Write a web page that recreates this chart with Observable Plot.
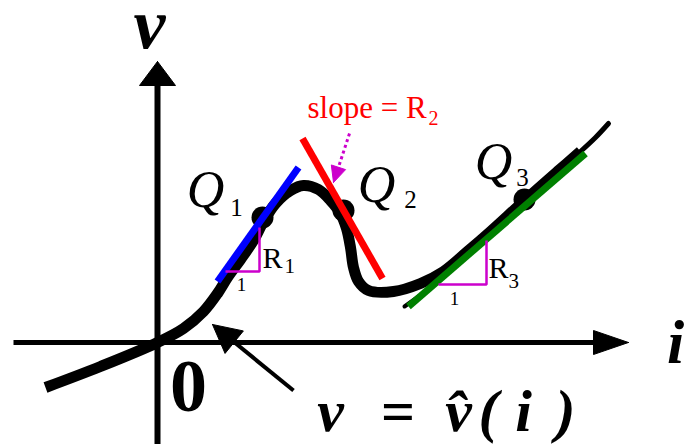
<!DOCTYPE html>
<html>
<head>
<meta charset="utf-8">
<script src="https://cdn.jsdelivr.net/npm/d3@7"></script>
<script src="https://cdn.jsdelivr.net/npm/@observablehq/plot@0.6"></script>
<style>
  html, body { margin: 0; padding: 0; background: #fff; }
  #chart svg { display: block; }
</style>
</head>
<body>
<div id="chart"></div>
<script>
// Characteristic v = v̂(i) of a current-controlled nonlinear resistor,
// with three operating points Q1..Q3 and the tangent (incremental) slopes R1..R3.

// i / v frame (1 unit = 10 px in both directions)
const iDomain = [-15.7, 53.3];
const vDomain = [-10.2, 34.2];

// characteristic curve v̂(i)
const curveI = [-11.2, -5.7, 0, 2.6, 4.6, 6.0, 7.0, 8.3, 9.6, 10.6, 11.8, 13.3, 14.6, 16.1, 17.3, 18.3, 18.9, 19.3, 19.6, 20.1, 21.1, 23.6, 26.3, 28.6, 31.0, 33.3, 36.6, 40.0, 42.3];
const curveV = [-4.5, -2.4, 0, 1.4, 3.1, 4.9, 6.5, 8.3, 10.2, 12.1, 13.9, 15.2, 15.7, 15.3, 14.2, 12.9, 11.4, 9.5, 7.5, 6.1, 5.2, 5.1, 5.9, 7.1, 9.1, 11.1, 14.1, 17.1, 19.1];
const tailI = [42.3, 43.8, 45.1];
const tailV = [19.1, 20.5, 21.9];
const stubI = [24.7, 26.1];
const stubV = [3.6, 4.6];

// operating points
const qNames = ["1", "2", "3"];
const qI = [10.5, 18.6, 36.7];
const qV = [12.5, 13.2, 14.3];

// tangent segments at Q1, Q2, Q3
const tangentR1 = [[6.0, 6.1], [14.1, 17.5]];
const tangentR2 = [[14.5, 20.4], [22.5, 6.4]];
const tangentR3 = [[25.1, 3.6], [42.8, 18.9]];

// slope triangles (run 1, rise R)
const slopeR1 = [[6.8, 7.1], [10.2, 7.1], [10.2, 11.5]];
const slopeR3 = [[28.1, 5.8], [32.9, 5.8], [32.9, 10.2]];

// axes: i axis along v = 0, v axis along i = 0
const iAxisFrom = -14.4, iAxisTip = 47.1;
const vAxisFrom = -10.2, vAxisTip = 28.1;

// pointer arrows: [tail, tip]
const curvePointer = [[13.6, -4.8], [5.5, 1.8]];
const slopePointer = [[19.2, 20.9], [17.6, 16.0]];

// text
const axisNameV = [{t: "v", i: -0.8, v: 29.5}];
const axisNameI = [{t: "i", i: 51.8, v: -2.0}];
const originLabel = [{t: "0", i: 3.1, v: -6.8}];
const qLetters = [{t: "Q", i: 4.8, v: 13.6}, {t: "Q", i: 21.9, v: 14.1}, {t: "Q", i: 33.6, v: 16.4}];
const qSubs = qNames.map((t, k) => ({t, i: [7.9, 25.3, 36.5][k], v: [12.7, 13.5, 15.7][k]}));
const rLetters = [{t: "R", i: 10.5, v: 7.5}, {t: "R", i: 33.1, v: 6.5}];
const rSubs = [{t: "1", i: 12.7, v: 7.0}, {t: "3", i: 35.1, v: 5.5}];
const runLabels = [{t: "1", i: 8.4, v: 5.2}, {t: "1", i: 29.7, v: 3.8}];
const slopeText = [{t: "slope = R", i: 15.0, v: 22.5}];
const slopeSub = [{t: "2", i: 27.1, v: 21.8}];
const formula = [
  {t: "v", i: 17.3}, {t: "=", i: 24.0}, {t: "v\u0302", i: 30.1},
  {t: "(", i: 33.1}, {t: "i", i: 36.6}, {t: ")", i: 40.8}
];
const formulaBaseline = -8.8;

// helpers
const pts = (is, vs) => is.map((i, k) => ({i, v: vs[k]}));
const pairs = (arr) => arr.map(([i, v]) => ({i, v}));
function headPoly([x0, y0], [x1, y1], len, half) {
  const dx = x1 - x0, dy = y1 - y0, L = Math.hypot(dx, dy);
  const ux = dx / L, uy = dy / L;
  const bx = x1 - ux * len, by = y1 - uy * len;
  return [[x1, y1], [bx - uy * half, by + ux * half], [bx + uy * half, by - ux * half], [x1, y1]];
}
function shaft([x0, y0], [x1, y1], len) {
  const dx = x1 - x0, dy = y1 - y0, L = Math.hypot(dx, dy);
  return [[x0, y0], [x1 - dx / L * (len - 0.3), y1 - dy / L * (len - 0.3)]];
}

const iTail = [iAxisFrom, 0], iTip = [iAxisTip, 0];
const vTail = [0, vAxisFrom], vTip = [0, vAxisTip];
const XY = {x: "i", y: "v"};
const MAGENTA = "#cc00cc";
const SERIF = "Liberation Serif";

const fill = (poly, color) => Plot.line(pairs(poly), {...XY, fill: color, stroke: color, strokeWidth: 1, strokeLinejoin: "miter", curve: "linear"});
const seg = (arr, color, w, extra = {}) => Plot.line(pairs(arr), {...XY, stroke: color, strokeWidth: w, strokeLinecap: "butt", curve: "linear", ...extra});
const label = (data, o) => Plot.text(data, {...XY, text: "t", lineAnchor: "bottom", fill: "black", fontFamily: SERIF, ...o});

const chart = Plot.plot({
  width: 690,
  height: 444,
  margin: 0,
  x: {domain: iDomain, axis: null},
  y: {domain: vDomain, axis: null},
  style: {background: "white", fontFamily: SERIF},
  marks: [
    // axes with filled arrowheads
    seg(shaft(iTail, iTip, 3.5), "black", 5),
    fill(headPoly(iTail, iTip, 3.5, 1.2), "black"),
    seg(shaft(vTail, vTip, 2.4), "black", 6),
    fill(headPoly(vTail, vTip, 2.4, 1.8), "black"),

    // characteristic curve
    Plot.line(pts(stubI, stubV), {...XY, stroke: "black", strokeWidth: 4, strokeLinecap: "round"}),
    Plot.line(pts(curveI, curveV), {...XY, stroke: "black", strokeWidth: 11, strokeLinecap: "butt", curve: "catmull-rom"}),
    Plot.line(pts(tailI, tailV), {...XY, stroke: "black", strokeWidth: 5, strokeLinecap: "round", curve: "catmull-rom"}),

    // operating points
    Plot.dot(pts(qI, qV), {...XY, r: 11, fill: "black"}),

    // tangents
    seg(tangentR1, "#0000ff", 7),
    seg(tangentR2, "#ff0000", 7),
    seg(tangentR3, "#008000", 7),

    // slope triangles
    seg(slopeR1, MAGENTA, 2.5, {strokeLinejoin: "miter"}),
    seg(slopeR3, MAGENTA, 2.5, {strokeLinejoin: "miter"}),

    // pointer to the curve
    seg(shaft(...curvePointer, 2.8), "black", 4),
    fill(headPoly(...curvePointer, 2.8, 1.45), "black"),

    // dotted pointer to the R2 tangent
    seg(shaft(...slopePointer, 1.6), MAGENTA, 3, {strokeDasharray: "3,3"}),
    fill(headPoly(...slopePointer, 1.6, 0.75), MAGENTA),

    // labels
    label(axisNameV, {fontSize: 72, fontWeight: "bold", fontStyle: "italic", textAnchor: "middle"}),
    label(axisNameI, {fontSize: 62, fontWeight: "bold", fontStyle: "italic", textAnchor: "middle"}),
    label(originLabel, {fontSize: 74, fontWeight: "bold", textAnchor: "middle"}),
    label(qLetters, {fontSize: 52, fontStyle: "italic", textAnchor: "middle"}),
    label(qSubs, {fontSize: 25, textAnchor: "middle"}),
    label(rLetters, {fontSize: 30, textAnchor: "start"}),
    label(rSubs, {fontSize: 21, textAnchor: "start"}),
    label(runLabels, {fontSize: 19, textAnchor: "middle"}),
    label(slopeText, {fontSize: 31, textAnchor: "start", fill: "#ff0000"}),
    label(slopeSub, {fontSize: 20, textAnchor: "start", fill: "#ff0000"}),
    Plot.text(formula, {x: "i", y: () => formulaBaseline, text: "t", lineAnchor: "bottom", textAnchor: "middle",
      fontFamily: SERIF, fontSize: 60, fontWeight: "bold", fontStyle: "italic", fill: "black"})
  ]
});

document.getElementById("chart").appendChild(chart);
</script>
</body>
</html>
